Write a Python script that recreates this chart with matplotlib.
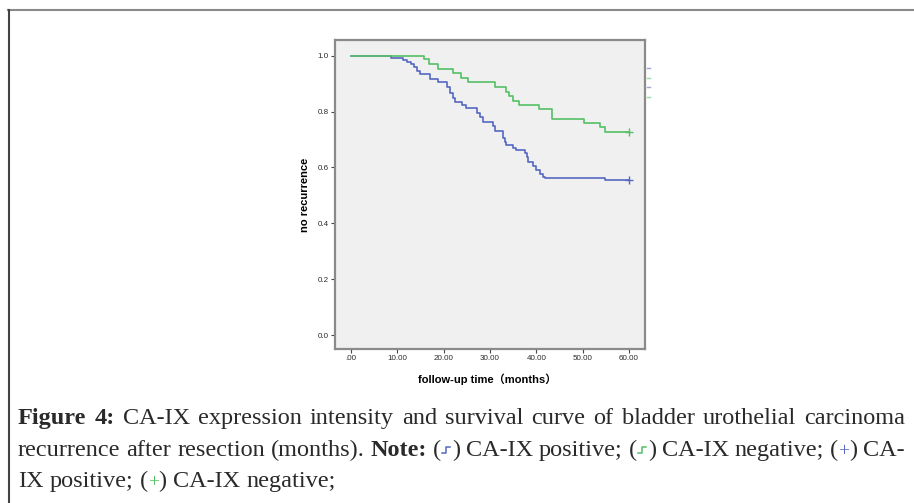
import matplotlib
matplotlib.use('Agg')
import matplotlib.pyplot as plt
from matplotlib.lines import Line2D
from matplotlib.transforms import IdentityTransform

W, H = 914, 503

# Kaplan-Meier steps (time in months, share without recurrence)
pos_times = [0, 8.63, 11.15, 12.0, 12.9, 13.6, 14.2, 14.9, 17.1, 18.85,
             20.8, 21.4, 22.0, 22.5, 23.9, 24.8, 27.1, 27.8, 28.4, 30.7,
             31.1, 32.9, 33.2, 33.5, 35.0, 35.6, 37.5, 37.9, 38.3, 39.3,
             40.0, 40.8, 41.5, 41.9, 54.8]
pos_surv = [1.0, 0.993, 0.985, 0.979, 0.969, 0.958, 0.946, 0.934, 0.917, 0.904,
            0.886, 0.868, 0.850, 0.833, 0.824, 0.812, 0.796, 0.779, 0.764, 0.748,
            0.731, 0.704, 0.692, 0.680, 0.668, 0.662, 0.651, 0.639, 0.620, 0.605,
            0.591, 0.576, 0.567, 0.563, 0.555]
neg_times = [0, 15.8, 16.9, 18.85, 22.1, 23.67, 25.18, 31.08, 33.45, 34.2,
             35.0, 36.3, 40.5, 43.3, 50.3, 53.7, 54.8]
neg_surv = [1.0, 0.987, 0.969, 0.952, 0.939, 0.921, 0.905, 0.889, 0.871, 0.856,
            0.839, 0.824, 0.808, 0.775, 0.760, 0.744, 0.728]
end_time = 60

x_ticks = [0, 10, 20, 30, 40, 50, 60]
x_tick_labels = ['.00', '10.00', '20.00', '30.00', '40.00', '50.00', '60.00']
y_ticks = [0.0, 0.2, 0.4, 0.6, 0.8, 1.0]
y_tick_labels = ['0.0', '0.2', '0.4', '0.6', '0.8', '1.0']

BLUE = '#5468c2'
GREEN = '#55c065'
SANS = ['Liberation Sans', 'Noto Sans CJK SC', 'DejaVu Sans']
SERIF = ['Liberation Serif', 'DejaVu Serif']
PIX = IdentityTransform()

fig = plt.figure(figsize=(W / 100, H / 100), dpi=100)
fig.patch.set_facecolor('white')

# plot panel
ax = fig.add_axes([335 / W, 1 - 349 / H, 310 / W, 309 / H])
ax.set_facecolor('#f0f0f0')
for sp in ax.spines.values():
    sp.set_color('#8a8a8a')
    sp.set_linewidth(1.6)

ax.step(pos_times + [end_time], pos_surv + [pos_surv[-1]], where='post',
        color=BLUE, lw=1.2)
ax.step(neg_times + [end_time], neg_surv + [neg_surv[-1]], where='post',
        color=GREEN, lw=1.2)
ax.plot([end_time], [pos_surv[-1]], marker='+', ms=6, mew=1, color=BLUE)
ax.plot([end_time], [neg_surv[-1]], marker='+', ms=6, mew=1, color=GREEN)

ax.set_xlim(-3.45, 63.45)
ax.set_ylim(-0.05, 1.056)
ax.set_xticks(x_ticks)
ax.set_xticklabels(x_tick_labels)
ax.set_yticks(y_ticks)
ax.set_yticklabels(y_tick_labels)
ax.tick_params(direction='out', length=3, width=0.8, color='#444444',
               labelsize=5.8, labelcolor='#2a2a2a', pad=1.5)
for lab in ax.get_xticklabels() + ax.get_yticklabels():
    lab.set_family(SANS)

fig.text(487, H - 379, 'follow-up time（months）', transform=PIX, ha='center',
         va='center', fontsize=8, fontweight='bold', family=SANS)
fig.text(305, H - 195, 'no recurrence', transform=PIX, ha='center',
         va='center', rotation=90, fontsize=8, fontweight='bold', family=SANS)

# clipped legend stubs at the right edge of the panel
for yy, c in zip([68, 78, 87, 97], [BLUE, GREEN, BLUE, GREEN]):
    fig.add_artist(Line2D([647, 650], [H - yy, H - yy], transform=PIX,
                          color=c, lw=1, alpha=0.6))

# outer frame (top and left only)
fig.add_artist(Line2D([8, W], [H - 10, H - 10], transform=PIX,
                      color='#8a8a8a', lw=1.5))
fig.add_artist(Line2D([8.5, 8.5], [0, H - 10], transform=PIX,
                      color='#444444', lw=1.5))

# caption, laid out word by word so the first two lines can be justified
renderer = fig.canvas.get_renderer()
CAP_SIZE = 17.5


def seg(text, bold=False, color='#2a2a2a', size=CAP_SIZE):
    return {'kind': 'text', 'text': text, 'bold': bold, 'color': color, 'size': size}


def step_icon(color):
    return {'kind': 'step', 'color': color, 'w': 11}


def measure(s):
    if s['kind'] != 'text':
        return s['w']
    t = fig.text(0, 0, s['text'], transform=PIX, fontsize=s['size'],
                 fontweight='bold' if s['bold'] else 'normal', family=SERIF)
    w = t.get_window_extent(renderer).width
    t.remove()
    return w


def draw_seg(s, x, base):
    if s['kind'] == 'text':
        fig.text(x, base, s['text'], transform=PIX, fontsize=s['size'],
                 fontweight='bold' if s['bold'] else 'normal', family=SERIF,
                 color=s['color'], ha='left', va='baseline')
    else:
        fig.add_artist(Line2D([x + 1.5, x + 5, x + 5, x + 9.5],
                              [base + 3, base + 3, base + 9, base + 9],
                              transform=PIX, color=s['color'], lw=1.1))


def words(text, **kw):
    return [[seg(w, **kw)] for w in text.split()]


def draw_caption_line(tokens, y_base, x0, x1=None):
    base = H - y_base
    widths = [sum(measure(s) for s in tok) for tok in tokens]
    natural = measure(seg('x x')) - measure(seg('xx'))
    if x1 is None:
        gap = natural
    else:
        gap = max((x1 - x0 - sum(widths)) / (len(tokens) - 1), natural * 0.6)
    x = x0
    for tok, w in zip(tokens, widths):
        xx = x
        for s in tok:
            draw_seg(s, xx, base)
            xx += measure(s)
        x += w + gap


line1 = (words('Figure 4:', bold=True) +
         words('CA-IX expression intensity and survival curve of bladder urothelial carcinoma'))
line2 = (words('recurrence after resection (months).') + words('Note:', bold=True) +
         [[seg('('), step_icon(BLUE), seg(')')]] + words('CA-IX positive;') +
         [[seg('('), step_icon(GREEN), seg(')')]] + words('CA-IX negative;') +
         [[seg('('), seg('+', color=BLUE, size=14), seg(')')]] + words('CA-'))
line3 = (words('IX positive;') +
         [[seg('('), seg('+', color=GREEN, size=14), seg(')')]] + words('CA-IX negative;'))

draw_caption_line(line1, 424, 18, 905)
draw_caption_line(line2, 456, 18, 905)
draw_caption_line(line3, 487, 18)

fig.savefig('out.png', dpi=100)
